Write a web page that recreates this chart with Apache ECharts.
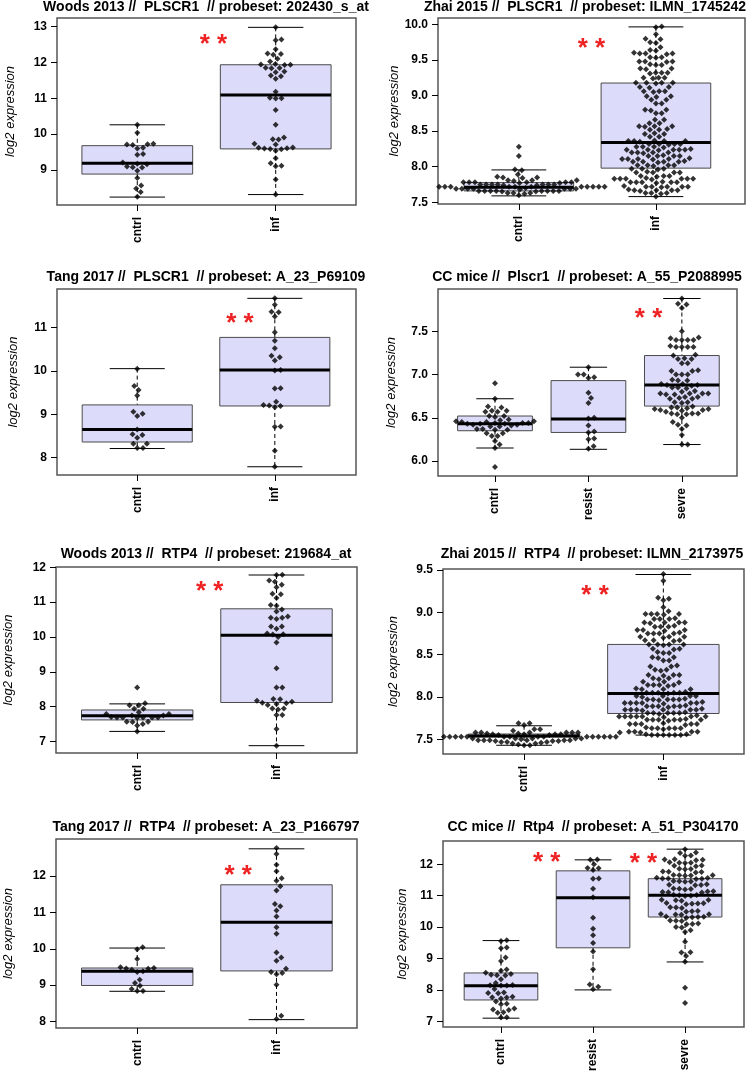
<!DOCTYPE html>
<html lang="en">
<head>
<meta charset="UTF-8">
<title>PLSCR1 / RTP4 expression</title>
<style>
    html, body { margin: 0; padding: 0; background: #fff; }
    #main { width: 750px; height: 1074px; }
</style>
</head>
<body>
<div id="main"></div>
<script src="https://cdn.jsdelivr.net/npm/echarts@6/dist/echarts.min.js"></script>
<script>
// ---------- data ----------
var groups2 = ['cntrl', 'inf'];
var groups3 = ['cntrl', 'resist', 'sevre'];

// Woods 2013 // PLSCR1
var woodsPlscr1Ticks = [9, 10, 11, 12, 13];
var woodsPlscr1Box = [[8.25, 8.89, 9.19, 9.68, 10.26], [8.32, 9.59, 11.09, 11.93, 12.97]];
var woodsPlscr1Cntrl = [10.26, 10.04, 9.73, 9.72, 9.71, 9.70, 9.62, 9.60, 9.45, 9.43, 9.21, 9.18, 9.16, 9.10, 9.08, 9.07, 8.98, 8.78, 8.57, 8.49, 8.39, 8.26];
var woodsPlscr1Inf = [12.97, 12.63, 12.61, 12.36, 12.24, 12.23, 12.21, 12.10, 12.02, 11.95, 11.94, 11.93, 11.92, 11.85, 11.84, 11.83, 11.74, 11.72, 11.63, 11.61, 11.54, 11.18, 11.01, 11.00, 10.99, 10.67, 10.26, 9.91, 9.86, 9.85, 9.73, 9.71, 9.63, 9.62, 9.61, 9.60, 9.59, 9.58, 9.54, 9.33, 9.19, 9.12, 9.11, 8.74, 8.32];

// Zhai 2015 // PLSCR1
var zhaiPlscr1Ticks = [7.5, 8.0, 8.5, 9.0, 9.5, 10.0];
var zhaiPlscr1Box = [[7.59, 7.66, 7.71, 7.777, 7.955], [7.58, 7.98, 8.34, 9.176, 9.965]];
var zhaiPlscr1Cntrl = [8.28, 8.15, 7.96, 7.95, 7.89, 7.86, 7.85, 7.85, 7.84, 7.81, 7.81, 7.80, 7.81,
    7.78, 7.78, 7.78, 7.77, 7.78, 7.78, 7.77, 7.78, 7.75, 7.75, 7.74, 7.75, 7.75, 7.75, 7.74, 7.75, 7.75,
    7.72, 7.72, 7.72, 7.72, 7.72, 7.72, 7.72, 7.72, 7.72, 7.72, 7.72, 7.72,
    7.69, 7.69, 7.70, 7.69, 7.69, 7.68, 7.69, 7.69, 7.69,
    7.66, 7.66, 7.65, 7.66, 7.66, 7.66, 7.65, 7.66, 7.66, 7.66,
    7.63, 7.63, 7.62, 7.63, 7.60];
var zhaiPlscr1Inf = [9.97, 9.96, 9.86, 9.80, 9.79, 9.75, 9.74, 9.68, 9.64, 9.63,
    9.59, 9.59, 9.60, 9.58, 9.59, 9.54, 9.54, 9.53, 9.48, 9.47, 9.48, 9.48, 9.43, 9.43, 9.44,
    9.38, 9.37, 9.38, 9.32, 9.32, 9.31, 9.32, 9.25, 9.25, 9.24, 9.25, 9.18, 9.18, 9.17, 9.18, 9.18,
    9.12, 9.12, 9.11, 9.06, 9.06, 9.05, 9.06, 8.99, 8.99, 8.98, 8.94, 8.94, 8.89, 8.89,
    8.80, 8.80, 8.79, 8.75, 8.75, 8.66, 8.66, 8.61, 8.61, 8.57, 8.57, 8.56, 8.57, 8.52, 8.52, 8.53,
    8.46, 8.46, 8.47, 8.42, 8.42, 8.36, 8.36, 8.37, 8.36, 8.36, 8.35, 8.32, 8.32, 8.31, 8.32, 8.32,
    8.28, 8.28, 8.27, 8.28, 8.24, 8.24, 8.25, 8.24, 8.24, 8.23, 8.24, 8.20, 8.20, 8.19, 8.20, 8.20,
    8.15, 8.15, 8.16, 8.15, 8.15, 8.11, 8.11, 8.10, 8.11, 8.11, 8.12, 8.07, 8.07, 8.06, 8.07, 8.07, 8.08,
    8.02, 8.02, 8.01, 8.02, 8.02, 7.97, 7.97, 7.96, 7.97, 7.92, 7.92, 7.93, 7.92, 7.92,
    7.87, 7.87, 7.86, 7.87, 7.83, 7.83, 7.82, 7.83, 7.83, 7.84, 7.83, 7.83,
    7.78, 7.78, 7.77, 7.78, 7.78, 7.79, 7.78, 7.72, 7.72, 7.71, 7.72, 7.72, 7.73, 7.72,
    7.67, 7.67, 7.66, 7.67, 7.67, 7.68, 7.63, 7.63, 7.62, 7.63, 7.58];

// Tang 2017 // PLSCR1
var tangPlscr1Ticks = [8, 9, 10, 11];
var tangPlscr1Box = [[8.21, 8.36, 8.65, 9.215, 10.05], [7.79, 9.19, 10.02, 10.77, 11.67]];
var tangPlscr1Cntrl = [10.05, 9.65, 9.56, 9.43, 9.06, 9.01, 8.96, 8.65, 8.54, 8.52, 8.46, 8.32, 8.32, 8.22, 8.22];
var tangPlscr1Inf = [11.67, 11.52, 11.36, 11.35, 11.25, 10.89, 10.69, 10.52, 10.35, 10.31, 10.24, 10.02, 10.01, 9.60, 9.59, 9.29, 9.21, 9.20, 9.19, 9.16, 8.72, 8.71, 8.16, 7.79];

// CC mice // Plscr1
var ccPlscr1Ticks = [6.0, 6.5, 7.0, 7.5];
var ccPlscr1Box = [[6.15, 6.35, 6.43, 6.52, 6.72], [6.135, 6.33, 6.485, 6.93, 7.085], [6.19, 6.635, 6.88, 7.22, 7.88]];
var ccPlscr1Cntrl = [6.90, 6.72, 6.63, 6.62, 6.58, 6.58, 6.57, 6.57, 6.52, 6.51, 6.52, 6.48, 6.47, 6.46, 6.46, 6.45, 6.45, 6.44, 6.44, 6.44,
    6.43, 6.43, 6.43, 6.42, 6.42, 6.41, 6.40, 6.40, 6.37, 6.37, 6.36, 6.36, 6.32, 6.32, 6.29, 6.29, 6.23, 6.19, 6.15, 5.93];
var ccPlscr1Resist = [7.085, 7.00, 7.00, 6.97, 6.96, 6.79, 6.73, 6.67, 6.50, 6.49, 6.41, 6.34, 6.33, 6.26, 6.25, 6.17, 6.14];
var ccPlscr1Severe = [7.88, 7.82, 7.81, 7.77, 7.50, 7.43, 7.42, 7.40, 7.40, 7.40, 7.40, 7.33, 7.32, 7.32, 7.32, 7.32, 7.23, 7.22, 7.19, 7.18,
    7.18, 7.13, 7.13, 7.05, 7.04, 7.04, 7.00, 7.00, 7.00, 6.94, 6.93, 6.93, 6.89, 6.89, 6.88, 6.88, 6.87, 6.85, 6.85, 6.84,
    6.81, 6.80, 6.78, 6.78, 6.78, 6.78, 6.77, 6.77, 6.74, 6.74, 6.73, 6.72, 6.72, 6.68, 6.68, 6.67, 6.63, 6.62, 6.62, 6.61,
    6.60, 6.60, 6.59, 6.59, 6.58, 6.57, 6.55, 6.55, 6.55, 6.54, 6.54, 6.50, 6.45, 6.42, 6.41, 6.37, 6.30, 6.19, 6.19];

// Woods 2013 // RTP4
var woodsRtp4Ticks = [7, 8, 9, 10, 11, 12];
var woodsRtp4Box = [[7.29, 7.62, 7.74, 7.905, 8.08], [6.88, 8.12, 10.05, 10.81, 11.78]];
var woodsRtp4Cntrl = [8.55, 8.10, 8.04, 8.04, 7.94, 7.94, 7.84, 7.79, 7.79, 7.75, 7.75, 7.70, 7.69, 7.69, 7.69, 7.69, 7.68, 7.69, 7.57, 7.57, 7.56, 7.50, 7.46, 7.29];
var woodsRtp4Inf = [11.79, 11.78, 11.62, 11.59, 11.50, 11.43, 11.24, 11.23, 11.12, 10.92, 10.90, 10.79, 10.73, 10.59, 10.55, 10.55, 10.52, 10.30, 10.30, 10.24,
    10.10, 10.08, 10.07, 10.00, 9.84, 9.10, 8.55, 8.55, 8.22, 8.21, 8.17, 8.14, 8.11, 8.10, 8.08, 8.05, 7.95, 7.95, 7.92, 7.76, 7.76, 7.36, 6.88];

// Zhai 2015 // RTP4
var zhaiRtp4Ticks = [7.5, 8.0, 8.5, 9.0, 9.5];
var zhaiRtp4Box = [[7.43, 7.53, 7.54, 7.563, 7.66], [7.55, 7.805, 8.04, 8.62, 9.445]];
var zhaiRtp4Cntrl = [7.69, 7.69, 7.67, 7.62, 7.62, 7.60,
    7.58, 7.58, 7.58, 7.57, 7.58, 7.58, 7.58, 7.57, 7.58, 7.56, 7.56, 7.55, 7.56, 7.56, 7.55,
    7.53, 7.53, 7.53, 7.53, 7.53, 7.53, 7.53, 7.53, 7.53, 7.53, 7.53, 7.53, 7.53, 7.53, 7.53, 7.53, 7.53,
    7.51, 7.51, 7.51, 7.51, 7.50, 7.51, 7.49, 7.49, 7.48, 7.49, 7.49, 7.48, 7.49, 7.49, 7.48,
    7.47, 7.47, 7.46, 7.47, 7.45, 7.45, 7.44, 7.43, 7.43];
var zhaiRtp4Inf = [9.45, 9.37, 9.17, 9.16, 9.14, 9.06, 9.01,
    8.98, 8.98, 8.97, 8.98, 8.98, 8.92, 8.92, 8.93, 8.92, 8.88, 8.88, 8.87, 8.88, 8.88,
    8.83, 8.83, 8.84, 8.83, 8.79, 8.79, 8.78, 8.79, 8.75, 8.75, 8.76, 8.75, 8.75,
    8.71, 8.71, 8.70, 8.71, 8.67, 8.67, 8.66, 8.67, 8.62, 8.62, 8.61, 8.62, 8.62,
    8.57, 8.57, 8.56, 8.52, 8.52, 8.53, 8.47, 8.47, 8.46, 8.43, 8.43, 8.36, 8.36, 8.37, 8.32, 8.32, 8.31,
    8.26, 8.26, 8.25, 8.26, 8.22, 8.22, 8.21, 8.18, 8.18, 8.17, 8.14, 8.14, 8.13, 8.14, 8.14,
    8.09, 8.09, 8.10, 8.09, 8.05, 8.05, 8.04, 8.05, 8.05, 8.06, 8.05, 8.01, 8.01, 8.00, 8.01, 8.01,
    7.97, 7.97, 7.96, 7.97, 7.97, 7.98, 7.97, 7.93, 7.93, 7.92, 7.93, 7.93, 7.94, 7.93, 7.93,
    7.89, 7.89, 7.88, 7.89, 7.89, 7.90, 7.89, 7.85, 7.85, 7.84, 7.85, 7.85, 7.86, 7.85, 7.85,
    7.81, 7.81, 7.80, 7.81, 7.81, 7.82, 7.81, 7.77, 7.77, 7.76, 7.77, 7.77, 7.78, 7.77, 7.77, 7.77,
    7.73, 7.73, 7.72, 7.73, 7.73, 7.74, 7.73, 7.73, 7.68, 7.68, 7.67, 7.68, 7.68, 7.69, 7.68,
    7.63, 7.63, 7.62, 7.63, 7.63, 7.64, 7.63, 7.59, 7.59, 7.58, 7.59, 7.59,
    7.55, 7.55, 7.56, 7.55, 7.55, 7.56, 7.55, 7.55];

// Tang 2017 // RTP4
var tangRtp4Ticks = [8, 9, 10, 11, 12];
var tangRtp4Box = [[8.83, 8.99, 9.38, 9.47, 10.02], [8.05, 9.39, 10.73, 11.76, 12.75]];
var tangRtp4Cntrl = [10.04, 9.99, 9.72, 9.49, 9.47, 9.46, 9.45, 9.42, 9.38, 9.36, 9.15, 9.06, 8.98, 8.89, 8.84, 8.84];
var tangRtp4Inf = [12.77, 12.61, 12.31, 12.13, 11.94, 11.87, 11.72, 11.60, 11.23, 11.17, 11.05, 10.89, 10.59, 10.41, 9.90, 9.76, 9.67, 9.45, 9.36, 9.33, 9.30, 9.01, 8.16, 8.07];

// CC mice // Rtp4
var ccRtp4Ticks = [7, 8, 9, 10, 11, 12];
var ccRtp4Box = [[7.10, 7.68, 8.13, 8.54, 9.57], [8.00, 9.34, 10.93, 11.79, 12.14], [8.89, 10.32, 11.01, 11.54, 12.48]];
var ccRtp4Cntrl = [9.58, 9.56, 9.35, 9.33, 9.03, 8.92, 8.65, 8.61, 8.55, 8.51, 8.48, 8.47, 8.46, 8.34, 8.22, 8.16, 8.15, 8.14, 8.14,
    8.03, 7.92, 7.90, 7.89, 7.78, 7.77, 7.76, 7.73, 7.63, 7.56, 7.54, 7.41, 7.38, 7.36, 7.29, 7.27, 7.13, 7.12];
var ccRtp4Resist = [12.15, 12.14, 12.00, 11.88, 11.87, 11.82, 11.55, 11.54, 11.22, 10.95, 10.30, 9.95, 9.74, 9.49, 9.22, 8.66, 8.17, 8.10, 8.02];
var ccRtp4Severe = [12.48, 12.37, 12.36, 12.28, 12.27, 12.15, 12.14, 12.16, 12.13, 12.05, 12.04, 12.06, 12.05,
    11.95, 11.94, 11.96, 11.85, 11.86, 11.84, 11.76, 11.77, 11.75, 11.74, 11.65, 11.66, 11.64, 11.65, 11.63,
    11.55, 11.56, 11.54, 11.55, 11.57, 11.53, 11.45, 11.46, 11.44, 11.47, 11.35, 11.36, 11.34, 11.33,
    11.22, 11.21, 11.23, 11.20, 11.12, 11.11, 11.13, 11.10, 11.14, 11.02, 11.01, 11.00, 11.03, 10.99,
    10.86, 10.85, 10.87, 10.84, 10.76, 10.75, 10.74, 10.77, 10.73, 10.62, 10.61, 10.63, 10.50, 10.51, 10.49,
    10.40, 10.41, 10.39, 10.42, 10.32, 10.31, 10.33, 10.30, 10.34, 10.20, 10.21, 10.19, 10.10, 10.11, 10.09,
    10.00, 9.99, 9.90, 9.84, 9.53, 9.20, 9.19, 9.08, 8.90, 8.07, 7.58];

// ---------- panel layout ----------
var panels = [
    {title: 'Woods 2013 //  PLSCR1  // probeset: 202430_s_at', cats: groups2, box: woodsPlscr1Box, ticks: woodsPlscr1Ticks,
     pts: [woodsPlscr1Cntrl, woodsPlscr1Inf], stars: [[1.55, 12.66]],
     rect: [57, 18, 299, 187], x: [0.42, 2.58], y: [8.03, 13.23], titleX: 206, titleTop: 0, nameGap: 40, dec: 0},
    {title: 'Zhai 2015 //  PLSCR1  // probeset: ILMN_1745242', cats: groups2, box: zhaiPlscr1Box, ticks: zhaiPlscr1Ticks,
     pts: [zhaiPlscr1Cntrl, zhaiPlscr1Inf], stars: [[1.53, 9.735]],
     rect: [438, 18, 307, 186], x: [0.41, 2.65], y: [7.476, 10.09], titleX: 585, titleTop: 0, nameGap: 36, dec: 1},
    {title: 'Tang 2017 //  PLSCR1  // probeset: A_23_P69109', cats: groups2, box: tangPlscr1Box, ticks: tangPlscr1Ticks,
     pts: [tangPlscr1Cntrl, tangPlscr1Inf], stars: [[1.746, 11.21]],
     rect: [57, 289, 299, 186], x: [0.417, 2.59], y: [7.6, 11.885], titleX: 206, titleTop: 270, nameGap: 37, dec: 0},
    {title: 'CC mice //  Plscr1  // probeset: A_55_P2088995', cats: groups3, box: ccPlscr1Box, ticks: ccPlscr1Ticks,
     pts: [ccPlscr1Cntrl, ccPlscr1Resist, ccPlscr1Severe], stars: [[2.643, 7.709]],
     rect: [438, 289, 299, 187], x: [0.39, 3.59], y: [5.826, 7.99], titleX: 587, titleTop: 270, nameGap: 40, dec: 1},
    {title: 'Woods 2013 //  RTP4  // probeset: 219684_at', cats: groups2, box: woodsRtp4Box, ticks: woodsRtp4Ticks,
     pts: [woodsRtp4Cntrl, woodsRtp4Inf], stars: [[1.52, 11.46]],
     rect: [56, 567, 301, 186], x: [0.417, 2.578], y: [6.67, 12.01], titleX: 206, titleTop: 547, nameGap: 41, dec: 0},
    {title: 'Zhai 2015 //  RTP4  // probeset: ILMN_2173975', cats: groups2, box: zhaiRtp4Box, ticks: zhaiRtp4Ticks,
     pts: [zhaiRtp4Cntrl, zhaiRtp4Inf], stars: [[1.51, 9.26]],
     rect: [443, 569, 301, 185], x: [0.418, 2.579], y: [7.327, 9.51], titleX: 592, titleTop: 547, nameGap: 43, dec: 1},
    {title: 'Tang 2017 //  RTP4  // probeset: A_23_P166797', cats: groups2, box: tangRtp4Box, ticks: tangRtp4Ticks,
     pts: [tangRtp4Cntrl, tangRtp4Inf], stars: [[1.725, 12.17]],
     rect: [56, 839, 301, 189], x: [0.417, 2.578], y: [7.82, 13.02], titleX: 206, titleTop: 820, nameGap: 41, dec: 0},
    {title: 'CC mice //  Rtp4  // probeset: A_51_P304170', cats: groups3, box: ccRtp4Box, ticks: ccRtp4Ticks,
     pts: [ccRtp4Cntrl, ccRtp4Resist, ccRtp4Severe], stars: [[1.497, 12.245], [2.547, 12.21]],
     rect: [443, 841, 301, 188], x: [0.37, 3.64], y: [6.82, 12.74], titleX: 593, titleTop: 820, nameGap: 34, dec: 0}
];

var FONT = '"Liberation Sans", Arial, sans-serif';
var SPACING = 5.8;   // beeswarm point spacing, px
var BOX_HALF = 0.4;
var CAP_HALF = 0.2;

// beeswarm "swarm" layout: returns x offsets (px) for each value
function swarm(values, pxPerY, s) {
    var order = values.map(function (v, i) { return i; });
    order.sort(function (a, b) { return values[a] - values[b]; });
    var placed = [];
    var out = [];
    order.forEach(function (i) {
        var y = values[i] * pxPerY;
        var cands = [0];
        placed.forEach(function (p) {
            var dy = Math.abs(p.y - y);
            if (dy < s) {
                var dx = Math.sqrt(s * s - dy * dy);
                cands.push(p.x + dx, p.x - dx);
            }
        });
        cands.sort(function (a, b) { return Math.abs(a) - Math.abs(b); });
        for (var k = 0; k < cands.length; k++) {
            var x = cands[k], ok = true;
            for (var j = 0; j < placed.length; j++) {
                var ddx = placed[j].x - x, ddy = placed[j].y - y;
                if (ddx * ddx + ddy * ddy < s * s - 0.01) { ok = false; break; }
            }
            if (ok) { out[i] = x; placed.push({x: x, y: y}); break; }
        }
    });
    return out;
}

function renderBox(params, api) {
    var c = api.value(0);
    var lo = api.coord([c, api.value(1)]);
    var q1 = api.coord([c, api.value(2)]);
    var md = api.coord([c, api.value(3)]);
    var q3 = api.coord([c, api.value(4)]);
    var hi = api.coord([c, api.value(5)]);
    var bl = api.coord([c - BOX_HALF, api.value(3)])[0];
    var br = api.coord([c + BOX_HALF, api.value(3)])[0];
    var cl = api.coord([c - CAP_HALF, api.value(3)])[0];
    var cr = api.coord([c + CAP_HALF, api.value(3)])[0];
    var x = md[0];
    var dash = {stroke: '#000', lineWidth: 1, lineDash: [4, 3]};
    var solid = {stroke: '#000', lineWidth: 1};
    return {
        type: 'group',
        children: [
            {type: 'line', shape: {x1: x, y1: hi[1], x2: x, y2: q3[1]}, style: dash},
            {type: 'line', shape: {x1: x, y1: q1[1], x2: x, y2: lo[1]}, style: dash},
            {type: 'line', shape: {x1: cl, y1: hi[1], x2: cr, y2: hi[1]}, style: solid},
            {type: 'line', shape: {x1: cl, y1: lo[1], x2: cr, y2: lo[1]}, style: solid},
            {type: 'rect', shape: {x: bl, y: q3[1], width: br - bl, height: q1[1] - q3[1]},
             style: {fill: '#dcdcfa', stroke: '#4a4a4a', lineWidth: 1}},
            {type: 'line', shape: {x1: bl, y1: md[1], x2: br, y2: md[1]}, style: {stroke: '#000', lineWidth: 3}}
        ]
    };
}

function renderStar(params, api) {
    var pt = api.coord([api.value(0), api.value(1)]);
    return {
        type: 'text',
        x: pt[0],
        y: pt[1] + 6,
        style: {text: '* *', fill: '#ee2222', fontSize: 26, fontWeight: 'bold', fontFamily: FONT, align: 'center', verticalAlign: 'middle'}
    };
}

var grids = [], xAxes = [], yAxes = [], series = [], titles = [];

panels.forEach(function (p, k) {
    var r = p.rect;
    var cats = p.cats;
    var catVals = cats.map(function (c, i) { return i + 1; });
    var pxPerX = r[2] / (p.x[1] - p.x[0]);
    var pxPerY = r[3] / (p.y[1] - p.y[0]);

    grids.push({left: r[0], top: r[1], width: r[2], height: r[3], show: true,
        borderColor: '#555', borderWidth: 1.5, backgroundColor: 'transparent'});

    titles.push({text: p.title, left: p.titleX, top: p.titleTop, textAlign: 'center', padding: 0,
        textStyle: {fontFamily: FONT, fontSize: 14, fontWeight: 'bold', color: '#000'}});

    xAxes.push({
        type: 'value', gridIndex: k, min: p.x[0], max: p.x[1],
        axisLine: {show: false, onZero: false},
        splitLine: {show: false},
        axisTick: {show: true, customValues: catVals, length: 6, lineStyle: {color: '#000'}},
        axisLabel: {show: true, customValues: catVals, rotate: 90, margin: 12,
            formatter: function (v) { return cats[Math.round(v) - 1]; },
            fontFamily: FONT, fontSize: 12, fontWeight: 'bold', color: '#000'}
    });

    var dec = p.dec;
    yAxes.push({
        type: 'value', gridIndex: k, min: p.y[0], max: p.y[1],
        name: 'log2 expression', nameLocation: 'middle', nameGap: p.nameGap,
        nameTextStyle: {fontFamily: FONT, fontStyle: 'italic', fontSize: 13, color: '#000'},
        axisLine: {show: false, onZero: false},
        splitLine: {show: false},
        axisTick: {show: true, customValues: p.ticks, length: 6, lineStyle: {color: '#000'}},
        axisLabel: {show: true, customValues: p.ticks, margin: 10,
            formatter: function (v) { return v.toFixed(dec); },
            fontFamily: FONT, fontSize: 12, fontWeight: 'bold', color: '#000'}
    });

    series.push({
        type: 'custom', xAxisIndex: k, yAxisIndex: k, z: 2,
        renderItem: renderBox,
        encode: {x: 0, y: [1, 2, 3, 4, 5]},
        data: p.box.map(function (b, i) { return [i + 1].concat(b); })
    });

    var pts = [];
    p.pts.forEach(function (vals, g) {
        var off = swarm(vals, pxPerY, SPACING);
        vals.forEach(function (v, i) { pts.push([g + 1 + off[i] / pxPerX, v]); });
    });
    series.push({
        type: 'scatter', xAxisIndex: k, yAxisIndex: k, z: 3,
        symbol: 'diamond', symbolSize: 6,
        itemStyle: {color: '#000'},
        data: pts
    });

    series.push({
        type: 'custom', xAxisIndex: k, yAxisIndex: k, z: 4,
        renderItem: renderStar,
        data: p.stars
    });
});

var mychart = echarts.init(document.getElementById('main'));
mychart.setOption({
    animation: false,
    backgroundColor: '#fff',
    title: titles,
    grid: grids,
    xAxis: xAxes,
    yAxis: yAxes,
    series: series
});
</script>
</body>
</html>
